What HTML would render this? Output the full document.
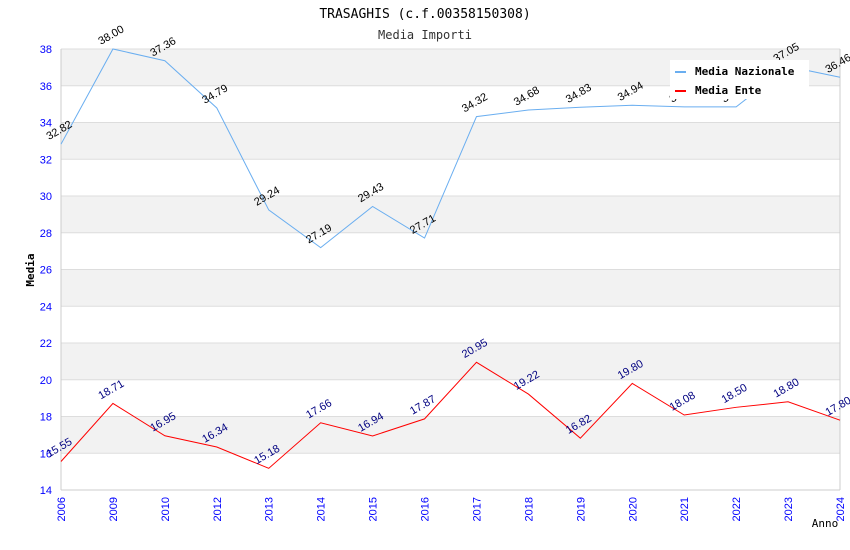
<!DOCTYPE html>
<html><head><meta charset="utf-8"><style>
html,body{margin:0;padding:0;background:#fff;width:850px;height:550px;overflow:hidden}
svg text{font-family:"Liberation Sans","DejaVu Sans",sans-serif}
.mono{font-family:"DejaVu Sans Mono","Liberation Mono",monospace}
</style></head><body>
<svg id="chart" width="850" height="550">
<g id="bands"></g>
<text class="mono" x="425" y="18" text-anchor="middle" font-size="13" fill="#000">TRASAGHIS (c.f.00358150308)</text>
<text class="mono" x="425" y="39" text-anchor="middle" font-size="12" fill="#333">Media Importi</text>
<text class="mono" x="34" y="270" text-anchor="middle" font-size="11" font-weight="bold" transform="rotate(-90 34 270)">Media</text>
<text class="mono" x="825" y="527" text-anchor="middle" font-size="11">Anno</text>
<g id="axes"></g>
<g id="series"></g>
<g>
<rect x="670" y="60" width="139" height="39" fill="#fff"/>
<line x1="675" y1="72" x2="686" y2="72" stroke="#6aaef0" stroke-width="2"/>
<text class="mono" x="695" y="75" font-size="11" font-weight="bold">Media Nazionale</text>
<line x1="675" y1="91" x2="686" y2="91" stroke="#f00" stroke-width="2"/>
<text class="mono" x="695" y="94" font-size="11" font-weight="bold">Media Ente</text>
</g>
</svg>
<script>
const categories=["2006","2009","2010","2012","2013","2014","2015","2016","2017","2018","2019","2020","2021","2022","2023","2024"];
const nazionale=[32.82,38.00,37.36,34.79,29.24,27.19,29.43,27.71,34.32,34.68,34.83,34.94,34.85,34.85,37.05,36.46];
const ente=[15.55,18.71,16.95,16.34,15.18,17.66,16.94,17.87,20.95,19.22,16.82,19.80,18.08,18.50,18.80,17.80];
const yTicks=[14,16,18,20,22,24,26,28,30,32,34,36,38];
const NS="http://www.w3.org/2000/svg";
const L=61,R=840,T=49,B=490,ymin=14,ymax=38;
const xs=i=>L+(R-L)*i/(categories.length-1);
const ys=v=>B-(v-ymin)/(ymax-ymin)*(B-T);
function mk(tag,attrs,parent){const e=document.createElementNS(NS,tag);for(const k in attrs)e.setAttribute(k,attrs[k]);parent.appendChild(e);return e;}
const bands=document.getElementById('bands'),axes=document.getElementById('axes'),series=document.getElementById('series');
for(let i=0;i<yTicks.length-1;i++){
  const lo=yTicks[i],hi=yTicks[i+1];
  const r=mk('rect',{x:L,y:ys(hi),width:R-L,height:ys(lo)-ys(hi),fill:(lo%4===0)?'#f2f2f2':'#fff'},bands);
  
  
}
yTicks.forEach(v=>{
  const l=mk('line',{x1:L,x2:R,y1:ys(v),y2:ys(v),stroke:'#ddd'},axes);
  
  
  const t=mk('text',{x:L-9,y:ys(v)+4,'text-anchor':'end','font-size':11,fill:'#00f'},axes);
  t.textContent=v;
  
  
});
mk('line',{x1:L,x2:L,y1:T,y2:B,stroke:'#ccc'},axes);
mk('line',{x1:R,x2:R,y1:T,y2:B,stroke:'#ccc'},axes);
mk('line',{x1:L,x2:R,y1:B,y2:B,stroke:'#ccc'},axes);
categories.forEach((c,i)=>{
  const x=xs(i)+4,y=497;
  const t=mk('text',{x:x,y:y,'text-anchor':'end','font-size':11,fill:'#00f',transform:`rotate(-90 ${x} ${y})`},axes);
  t.textContent=c;
  
  
});
function draw(vals,color,lblColor,name){
  const p=mk('polyline',{points:vals.map((v,i)=>xs(i)+','+ys(v)).join(' '),fill:'none',stroke:color,'stroke-width':1},series);
  
  
  vals.forEach((v,i)=>{
    const x=xs(i)-12,y=ys(v)-4;
    const t=mk('text',{x:x,y:y,'font-size':11,fill:lblColor,transform:`rotate(-30 ${x} ${y})`},series);
    t.textContent=v.toFixed(2);
    
    
  });
}
draw(nazionale,'#6aaef0','#000','nazionale');
draw(ente,'#f00','#000080','ente');
</script>
</body></html>
